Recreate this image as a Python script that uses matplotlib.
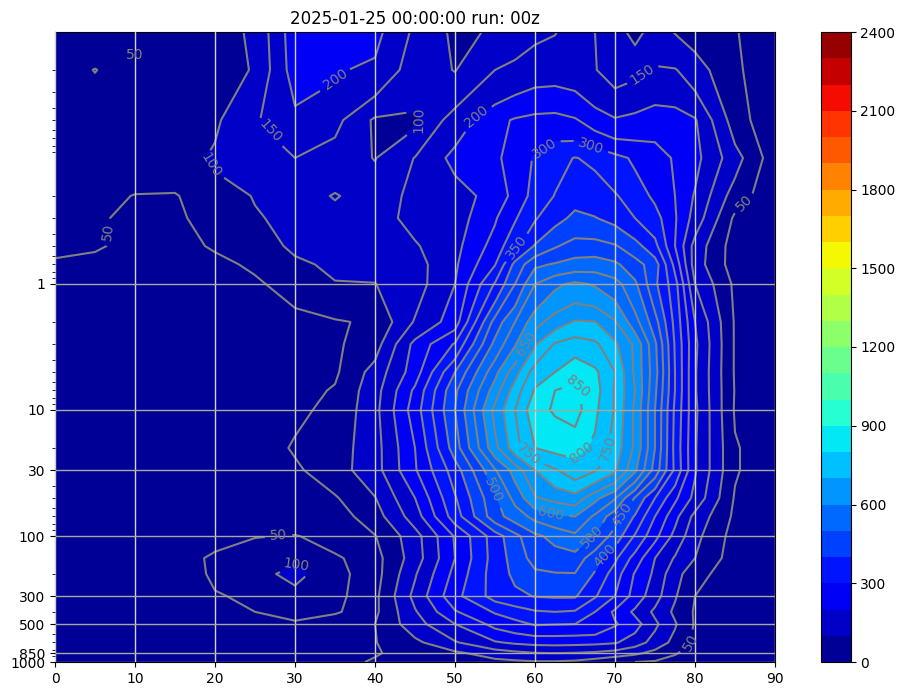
import numpy as np
import matplotlib
matplotlib.use("Agg")
import matplotlib.pyplot as plt
from matplotlib.ticker import NullFormatter

lats = [0, 5, 10, 15, 20, 25, 30, 35, 40, 45, 50, 55, 57.5, 60, 62.5, 65, 67.5, 70, 72.5, 75, 77.5, 80, 85, 90]
pressures = [0.01, 0.02, 0.05, 0.1, 0.2, 0.3, 0.5, 0.7, 1, 2, 3, 5, 7, 10, 20, 30, 50, 70,
             100, 150, 200, 300, 400, 500, 700, 850, 1000]

u_0p01 = [55, 55, 55, 60, 75, 110, 230, 250, 215, 140, 90, 105, 120, 140, 148, 170, 150, 120, 85, 120, 98, 80, 52, 30]
u_0p02 = [55, 49.7, 55, 60, 72, 105, 225, 205, 190, 125, 98, 150, 165, 178, 180, 175, 152, 130, 140, 155, 153, 125, 55, 30]
u_0p05 = [55, 58, 62, 70, 92, 145, 185, 165, 92, 92, 175, 235, 255, 265, 268, 255, 225, 205, 215, 230, 225, 205, 75, 10]
u_0p1 = [60, 62, 65, 75, 108, 135, 150, 125, 98, 152, 215, 240, 272, 305, 335, 352, 340, 315, 292, 270, 245, 215, 120, 20]
u_0p2 = [62, 58, 49, 47, 75, 103, 130, 153, 130, 160, 175, 222, 265, 320, 352, 385, 378, 355, 325, 290, 250, 195, 75, 15]
u_0p3 = [58, 53, 45, 42, 68, 95, 115, 135, 130, 165, 175, 245, 295, 345, 385, 410, 402, 385, 350, 320, 255, 180, 40, 12]
u_0p5 = [55, 52, 45, 35, 55, 80, 108, 118, 120, 145, 185, 270, 340, 405, 445, 470, 470, 455, 420, 365, 250, 130, 25, 10]
u_0p7 = [47, 45, 38, 30, 38, 58, 92, 108, 112, 130, 192, 298, 415, 490, 505, 520, 525, 510, 470, 425, 285, 125, 25, 8]
u_1 = [45, 42, 35, 30, 30, 42, 72, 98, 99, 128, 200, 355, 450, 550, 590, 610, 595, 570, 510, 410, 320, 150, 40, 8]
u_2 = [38, 35, 30, 26, 25, 25, 32, 45, 58, 155, 225, 470, 550, 630, 675, 705, 702, 655, 570, 470, 335, 200, 45, 10]
u_3 = [32, 28, 25, 22, 20, 20, 28, 42, 78, 215, 305, 515, 595, 695, 755, 775, 760, 710, 640, 510, 345, 210, 45, 10]
u_5 = [28, 25, 22, 18, 16, 16, 22, 42, 120, 225, 400, 585, 680, 775, 800, 835, 810, 750, 640, 520, 350, 205, 45, 10]
u_7 = [24, 22, 20, 16, 14, 18, 30, 55, 130, 260, 440, 625, 725, 805, 850, 862, 820, 745, 650, 510, 350, 205, 47, 12]
u_10 = [20, 20, 20, 18, 16, 22, 42, 60, 135, 275, 450, 665, 750, 835, 855, 870, 810, 745, 640, 500, 340, 210, 45, 15]
u_20 = [18, 18, 18, 18, 18, 25, 55, 75, 130, 250, 425, 635, 730, 800, 815, 815, 790, 730, 640, 500, 335, 205, 55, 15]
u_30 = [15, 15, 15, 15, 18, 25, 42, 78, 130, 245, 375, 545, 620, 700, 745, 780, 755, 710, 610, 480, 340, 205, 55, 15]
u_50 = [12, 12, 12, 12, 15, 22, 28, 45, 98, 200, 345, 490, 565, 645, 665, 680, 615, 555, 445, 350, 260, 185, 45, 10]
u_70 = [10, 10, 10, 10, 12, 15, 20, 25, 78, 175, 325, 480, 525, 565, 590, 600, 540, 470, 395, 300, 215, 135, 40, 8]
u_100 = [8, 8, 8, 8, 20, 48, 52, 35, 48, 130, 255, 375, 435, 490, 515, 540, 495, 430, 345, 265, 185, 115, 30, 6]
u_150 = [8, 8, 8, 10, 65, 75, 90, 55, 32, 125, 250, 372, 420, 470, 478, 480, 420, 360, 280, 200, 145, 100, 25, 5]
u_200 = [8, 8, 8, 8, 62, 80, 118, 62, 30, 145, 265, 375, 410, 440, 447, 448, 395, 325, 245, 190, 115, 75, 10, 5]
u_300 = [8, 8, 8, 10, 45, 62, 80, 55, 38, 165, 285, 370, 390, 402, 405, 405, 355, 300, 230, 170, 105, 50, 12, 5]
u_400 = [8, 8, 8, 10, 25, 50, 62, 52, 40, 145, 245, 305, 325, 345, 350, 345, 300, 240, 190, 140, 90, 45, 10, 4]
u_500 = [8, 8, 8, 8, 15, 42, 45, 40, 50, 130, 200, 265, 285, 305, 302, 300, 295, 255, 220, 160, 105, 45, 10, 4]
u_700 = [8, 8, 8, 8, 10, 20, 30, 35, 48, 88, 145, 195, 208, 215, 217, 215, 212, 205, 175, 130, 85, 40, 10, 4]
u_850 = [6, 6, 6, 6, 8, 12, 18, 25, 46, 68, 90, 125, 138, 148, 150, 148, 142, 130, 110, 85, 55, 25, 8, 3]
u_1000 = [5, 5, 5, 5, 6, 10, 15, 35, 55, 62, 72, 85, 90, 95, 95, 90, 75, 55, 50, 45, 30, 15, 5, 2]

rows = [u_0p01, u_0p02, u_0p05, u_0p1, u_0p2, u_0p3, u_0p5, u_0p7, u_1, u_2, u_3, u_5, u_7,
        u_10, u_20, u_30, u_50, u_70, u_100, u_150, u_200, u_300, u_400, u_500, u_700, u_850, u_1000]

fill_levels = list(range(0, 2401, 100))
line_levels = list(range(50, 2401, 50))
pressure_ticks = [1000, 850, 500, 300, 100, 30, 10, 1]
pressure_labels = ["1000", "850", "500", "300", "100", "30", "10", "1"]
lat_ticks = list(range(0, 91, 10))
cbar_ticks = list(range(0, 2401, 300))
title = "2025-01-25 00:00:00 run: 00z"

label_lat = [7.5, 19.9, 25.9, 35, 46.5, 53, 67, 62, 74, 85.9, 58, 58.9, 64.9, 65.9, 69.6, 58.9, 55.4, 61.9, 67.1, 71.1, 68.8, 27.9, 30, 81.9]
label_p = [0.394, 0.107, 0.07, 0.0237, 0.05, 0.05, 0.08, 0.1, 0.024, 0.22, 0.53, 3.0, 6.8, 22, 21, 24, 42, 71, 100, 70, 146, 90, 175, 900]


z = np.array(rows, dtype=float)

fig = plt.figure(figsize=(9.06, 6.96), dpi=100)
W, H = 906, 696
ax = fig.add_axes([55 / W, 1 - 662 / H, 720 / W, 630 / H])
cax = fig.add_axes([820.5 / W, 1 - 662 / H, 30 / W, 630 / H])

cf = ax.contourf(lats, pressures, z, levels=fill_levels, cmap="jet")
cs = ax.contour(lats, pressures, z, levels=line_levels, colors="gray", linewidths=1.5)
ax.set_yscale("log")
ax.set_xlim(0, 90)
ax.set_ylim(1000, 0.01)
ax.set_yticks(pressure_ticks)
ax.set_yticklabels(pressure_labels)
ax.yaxis.set_minor_formatter(NullFormatter())
ax.set_xticks(lat_ticks)
ax.grid(True, axis="x", color="#d2d2dc", linewidth=1)
ax.grid(True, axis="y", color="#a8a89c", linewidth=1)
ax.set_axisbelow(False)
ax.clabel(cs, manual=list(zip(label_lat, label_p)), inline=True, fmt="%d", fontsize=10)
ax.text(9.9, 0.0152, "50", color="gray", fontsize=10, ha="center", va="center")
ax.set_title(title, fontsize=12)

cb = fig.colorbar(cf, cax=cax, ticks=cbar_ticks)
fig.savefig("out.png", dpi=100)
